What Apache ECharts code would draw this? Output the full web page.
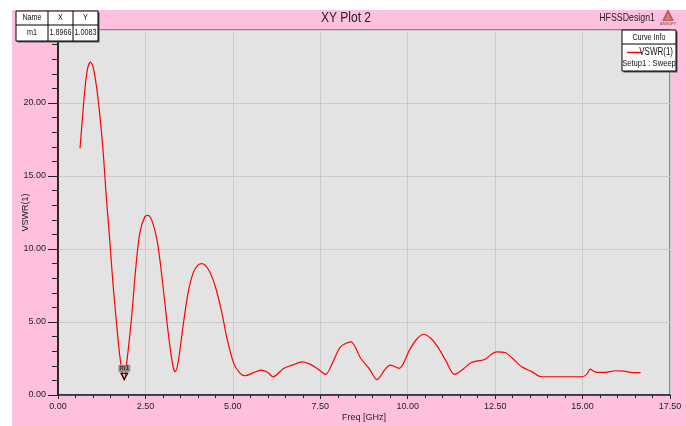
<!DOCTYPE html>
<html><head><meta charset="utf-8">
<script src="https://cdn.jsdelivr.net/npm/echarts@6/dist/echarts.min.js"></script>
<style>html,body{margin:0;padding:0;background:#fff}#c{width:686px;height:426px}</style>
</head><body><div id="c"></div>
<script>
// ---- data ----
const freq = [0.63,0.71,0.78,0.85,0.93,1.01,1.14,1.28,1.38,1.47,1.57,1.67,1.76,1.84,1.8966,1.97,2.10,2.22,2.34,2.48,2.58,2.72,2.86,3.00,3.15,3.28,3.35,3.44,3.58,3.72,3.87,4.00,4.11,4.30,4.49,4.68,4.83,5.02,5.20,5.35,5.59,5.80,5.98,6.15,6.45,6.70,6.98,7.22,7.45,7.65,7.85,8.08,8.37,8.66,8.90,9.12,9.35,9.50,9.62,9.76,10.05,10.25,10.46,10.65,10.86,11.10,11.34,11.60,11.82,12.20,12.40,12.54,12.78,13.00,13.26,13.55,13.83,14.40,14.98,15.12,15.22,15.30,15.41,15.65,15.94,16.18,16.37,16.66];
const vswr = [16.9,19.3,21.2,22.4,22.8,22.4,20.4,17.0,13.6,10.9,7.7,5.0,2.8,1.5,1.0083,2.3,5.2,8.6,11.1,12.2,12.3,11.7,10.2,7.5,4.3,2.05,1.6,2.3,4.8,7.0,8.4,8.9,9.0,8.6,7.5,5.7,3.9,2.2,1.5,1.32,1.53,1.7,1.58,1.25,1.82,2.05,2.27,2.1,1.75,1.41,2.2,3.3,3.64,2.5,1.8,1.05,1.75,2.05,1.95,1.82,3.07,3.8,4.16,3.9,3.3,2.3,1.41,1.8,2.23,2.43,2.8,2.96,2.91,2.5,1.93,1.6,1.25,1.25,1.25,1.41,1.77,1.65,1.55,1.55,1.66,1.64,1.55,1.53];
const seriesName = 'VSWR(1)';
const markerName = 'm1';
const markerX = 1.8966;
const markerY = 1.0083;
const tableHeader = ['Name','X','Y'];
const tableRow = ['m1','1.8966','1.0083'];

const FONT = "'Liberation Sans Narrow','Liberation Sans',Arial,sans-serif";
const NARROW = 0.8;
const chart = echarts.init(document.getElementById('c'), null, {renderer:'canvas'});

function txt(x, y, s, size, align, z, color){
  return {type:'text', x:x, y:y, scaleX:NARROW, style:{text:s, fill:color||'#111', font:size+'px '+FONT, align:align, verticalAlign:'middle'}, z:z||103};
}

// marker table graphic
const colX = [16,48,73,98];
const rowY = [11,25,41];
const tableEls = [
  {type:'rect', shape:{x:colX[0]+1.5,y:rowY[0]+1.5,width:colX[3]-colX[0],height:rowY[2]-rowY[0]}, style:{fill:'#555'}, z:100},
  {type:'rect', shape:{x:colX[0],y:rowY[0],width:colX[3]-colX[0],height:rowY[2]-rowY[0]}, style:{fill:'#fff',stroke:'#000',lineWidth:1}, z:101},
  {type:'line', shape:{x1:colX[0],y1:rowY[1],x2:colX[3],y2:rowY[1]}, style:{stroke:'#000',lineWidth:1}, z:102},
  {type:'line', shape:{x1:colX[1],y1:rowY[0],x2:colX[1],y2:rowY[2]}, style:{stroke:'#000',lineWidth:1}, z:102},
  {type:'line', shape:{x1:colX[2],y1:rowY[0],x2:colX[2],y2:rowY[2]}, style:{stroke:'#000',lineWidth:1}, z:102}
];
for (let i=0;i<3;i++){
  const cx=(colX[i]+colX[i+1])/2;
  tableEls.push(txt(cx, (rowY[0]+rowY[1])/2, tableHeader[i], 9, 'center'));
  tableEls.push(txt(cx, (rowY[1]+rowY[2])/2, tableRow[i], 9, 'center'));
}

// legend box graphic
const legEls = [
  {type:'rect', shape:{x:623.5,y:31.5,width:54,height:41}, style:{fill:'#555'}, z:100},
  {type:'rect', shape:{x:622,y:30,width:54,height:41}, style:{fill:'#fff',stroke:'#000',lineWidth:1}, z:101},
  {type:'line', shape:{x1:622,y1:44,x2:676,y2:44}, style:{stroke:'#000',lineWidth:1}, z:102},
  txt(649, 37.5, 'Curve Info', 9, 'center'),
  {type:'line', shape:{x1:627,y1:52.5,x2:642,y2:52.5}, style:{stroke:'#ff0000',lineWidth:1.5}, z:103},
  txt(673, 52.5, seriesName, 10, 'right'),
  txt(649, 63.5, 'Setup1 : Sweep', 9.5, 'center')
];

// header texts and logo
const headEls = [
  txt(346, 18, 'XY Plot 2', 15, 'center', 103, '#222'),
  txt(655, 18, 'HFSSDesign1', 11, 'right', 103, '#222'),
  {type:'polygon', shape:{points:[[668,9],[662,21],[674,21]]}, style:{fill:'#d9534f'}, z:100},
  {type:'polygon', shape:{points:[[668,13],[665,20],[671,20]]}, style:{fill:'#9a9a9a'}, z:101},
  {type:'text', x:668, y:24, style:{text:'ANSOFT', fill:'#777', font:'bold 4px '+FONT, align:'center', verticalAlign:'middle'}, z:101}
];

const option = {
  backgroundColor:'#ffffff',
  animation:false,
  textStyle:{fontFamily:FONT},
  grid:{left:58, right:16, top:30, bottom:31, outerBoundsMode:'none', containLabel:false, show:true, backgroundColor:'#e3e3e3', borderColor:'#333', borderWidth:1},
  xAxis:{
    type:'value', min:0, max:17.5, interval:2.5,
    name:'Freq [GHz]', nameLocation:'middle', nameGap:18, nameMoveOverlap:false,
    nameTextStyle:{fontFamily:FONT, fontSize:9, color:'#222'},
    axisLine:{show:true, onZero:false, lineStyle:{color:'#222', width:1.5}},
    axisTick:{show:true, length:4, lineStyle:{color:'#222'}},
    minorTick:{show:true, splitNumber:5, length:3, lineStyle:{color:'#222'}},
    axisLabel:{fontFamily:FONT, fontSize:9, color:'#222', margin:7, formatter:v=>v.toFixed(2)},
    splitLine:{show:true, lineStyle:{color:'#cbcbcb', width:1}}
  },
  yAxis:[{
    type:'value', min:0, max:25, interval:5,
    name:'VSWR(1)', nameLocation:'middle', nameGap:28, nameRotate:90, nameMoveOverlap:false,
    nameTextStyle:{fontFamily:FONT, fontSize:9, color:'#222'},
    axisLine:{show:true, onZero:false, lineStyle:{color:'#222', width:1.5}},
    axisTick:{show:true, length:10, lineStyle:{color:'#222'}},
    minorTick:{show:true, splitNumber:5, length:6, lineStyle:{color:'#222'}},
    axisLabel:{fontFamily:FONT, fontSize:9, color:'#222', margin:12, formatter:v=>v===25?'':v.toFixed(2)},
    splitLine:{show:true, lineStyle:{color:'#cbcbcb', width:1}}
  },{
    type:'value', min:0, max:25, interval:5, position:'right',
    axisLine:{show:true, lineStyle:{color:'#222', width:1.5}},
    axisTick:{show:false}, axisLabel:{show:false}, splitLine:{show:false}
  }],
  series:[{
    name:seriesName, type:'line', yAxisIndex:0,
    data:freq.map((f,i)=>[f, vswr[i]]),
    symbol:'none', smooth:0.3,
    lineStyle:{color:'#ff0000', width:1.2},
    markPoint:{
      data:[{
        name:markerName, coord:[markerX, markerY],
        symbol:'triangle', symbolRotate:180, symbolSize:[7,6], symbolOffset:[0,-4],
        itemStyle:{color:'rgba(0,0,0,0)', borderColor:'#000', borderWidth:1},
        label:{show:true, position:'top', distance:1, formatter:markerName, backgroundColor:'#8c8c8c', color:'#222', fontSize:7, fontFamily:FONT, padding:[0,1,0,1], lineHeight:7}
      }]
    }
  }],
  graphic:[
    {type:'rect', shape:{x:12,y:10,width:674,height:416}, style:{fill:'#ffbfdf'}, z:-10, silent:true},
    ...tableEls, ...legEls, ...headEls
  ]
};
chart.setOption(option);
</script></body></html>
